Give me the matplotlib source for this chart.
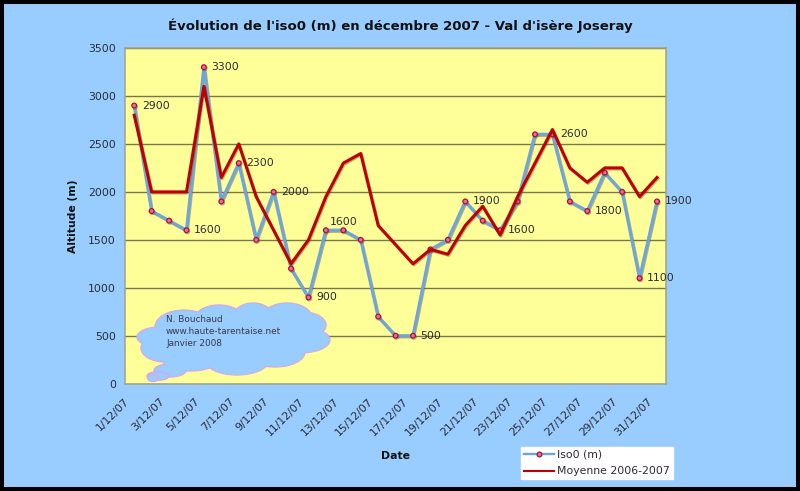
import matplotlib
matplotlib.use('Agg')
import matplotlib.pyplot as plt
import matplotlib.patheffects as pe
from matplotlib.patches import Ellipse, Rectangle
from matplotlib.transforms import Affine2D, ScaledTranslation

jours = list(range(1, 32))
dates = ['%d/12/07' % j for j in jours]
iso0 = [2900, 1800, 1700, 1600, 3300, 1900, 2300, 1500, 2000, 1200, 900,
        1600, 1600, 1500, 700, 500, 500, 1400, 1500, 1900, 1700, 1600,
        1900, 2600, 2600, 1900, 1800, 2200, 2000, 1100, 1900]
moyenne = [2800, 2000, 2000, 2000, 3100, 2150, 2500, 1950, 1600, 1250, 1500,
           1950, 2300, 2400, 1650, 1450, 1250, 1400, 1350, 1650, 1850, 1550,
           1950, 2300, 2650, 2250, 2100, 2250, 2250, 1950, 2150]
# jours qui portent une etiquette
jours_label = [1, 4, 5, 7, 9, 11, 13, 17, 20, 22, 25, 27, 30, 31]
yticks = [0, 500, 1000, 1500, 2000, 2500, 3000, 3500]

BLEU = '#99CCFF'
TEXTE = '#2b2b33'

fig = plt.figure(figsize=(8, 4.91), dpi=100, facecolor=BLEU)
W, H = 800, 491
ax = fig.add_axes([125.5 / W, 1 - 383.7 / H, 540.2 / W, 335.7 / H], facecolor='#FFFF99')

# transformation en pixels de l'image (origine en haut a gauche)
px = Affine2D().scale(1 / W, -1 / H).translate(0, 1) + fig.transFigure

# cadre noir
fig.patches.append(Rectangle((2, 2), 796, 487, transform=px, fill=False,
                             edgecolor='black', linewidth=2.9))

ax.set_xlim(0.5, 31.5)
ax.set_ylim(0, 3500)
ax.set_yticks(yticks)
ax.yaxis.grid(True, color='#77774a', linewidth=1.0)
ax.set_axisbelow(True)
for s in ax.spines.values():
    s.set_color('#a3a385')
    s.set_linewidth(1.1)

ombre = [pe.SimpleLineShadow(offset=(0.6, -0.8), shadow_color='#555555', alpha=0.45), pe.Normal()]
ax.plot(jours, iso0, color='#6FA5D8', linewidth=2.3, marker='o', markersize=3.4,
        markerfacecolor='#E070A0', markeredgecolor='#B01030', markeredgewidth=0.9,
        path_effects=ombre, label='Iso0 (m)', zorder=3, clip_on=False)
ax.plot(jours, moyenne, color='#C00000', linewidth=2.2, path_effects=ombre,
        label='Moyenne 2006-2007', zorder=4, clip_on=False)

for j in jours_label:
    v = iso0[j - 1]
    if j == 13:
        ax.annotate(str(v), (j, v), xytext=(0, 6), textcoords='offset points',
                    fontsize=7.8, color=TEXTE, ha='center', va='center', zorder=5)
    else:
        ax.annotate(str(v), (j, v), xytext=(5.5, 0), textcoords='offset points',
                    fontsize=7.8, color=TEXTE, ha='left', va='center', zorder=5)

ax.set_xticks(jours[::2])
ax.set_xticklabels(dates[::2], rotation=45, ha='right', rotation_mode='anchor',
                   fontsize=7.8, color=TEXTE)
ax.tick_params(axis='x', length=0, pad=9)
decale = ScaledTranslation(-10 / 100, 0, fig.dpi_scale_trans)
for t in ax.get_xticklabels():
    t.set_transform(t.get_transform() + decale)
ax.tick_params(axis='y', length=0, pad=7, labelsize=7.8, labelcolor=TEXTE)
ax.set_xlabel('Date', fontsize=7.8, fontweight='bold', color='#111111')
ax.xaxis.set_label_coords(395 / W, 1 - 451 / H, transform=fig.transFigure)
ax.set_ylabel('Altitude (m)', fontsize=7.8, fontweight='bold', color='#111111')
ax.yaxis.set_label_coords(78 / W, 1 - 216 / H, transform=fig.transFigure)

fig.text(400 / W, 1 - 26 / H, "Évolution de l'iso0 (m) en décembre 2007 - Val d'isère Joseray",
         fontsize=9.5, fontweight='bold', color='#111111', ha='center', va='center')

# le nuage
nuage = [(160, 337, 46, 20), (165, 348, 48, 28), (184, 327, 58, 34), (219, 320, 50, 30),
         (253, 317, 40, 28), (287, 318, 50, 30), (303, 325, 46, 26), (300, 340, 60, 26),
         (275, 352, 60, 30), (237, 360, 64, 30), (190, 361, 54, 20), (235, 335, 150, 50)]
bulles = [(170, 370.5, 32, 13), (158, 376, 22, 8.6), (153, 378, 11, 7)]
for e in nuage + bulles:
    fig.patches.append(Ellipse(e[:2], e[2], e[3], transform=px, facecolor=BLEU,
                               edgecolor='#D8A8E8', linewidth=1.0, zorder=6))
for e in nuage:
    fig.patches.append(Ellipse(e[:2], e[2] - 1.5, e[3] - 1.5, transform=px, facecolor=BLEU,
                               edgecolor='none', zorder=7))
fig.text(166 / W, 1 - 315.5 / H, 'N. Bouchaud\nwww.haute-tarentaise.net\nJanvier 2008',
         fontsize=6.4, color='#3a3a48', ha='left', va='top', linespacing=1.4, zorder=8)

leg = ax.legend(loc='upper left', bbox_to_anchor=(520.7 / W, 1 - 446.7 / H),
                bbox_transform=fig.transFigure, fontsize=7.8, frameon=True, fancybox=False,
                facecolor='white', edgecolor='white', framealpha=1, borderaxespad=0,
                borderpad=0.27, labelspacing=0.63, handlelength=2.8, handletextpad=0.3,
                labelcolor=TEXTE)
for l, lw in zip(leg.get_lines(), [1.7, 1.5]):
    l.set_path_effects([])
    l.set_linewidth(lw)

fig.savefig('out.png', dpi=100, facecolor=fig.get_facecolor())
